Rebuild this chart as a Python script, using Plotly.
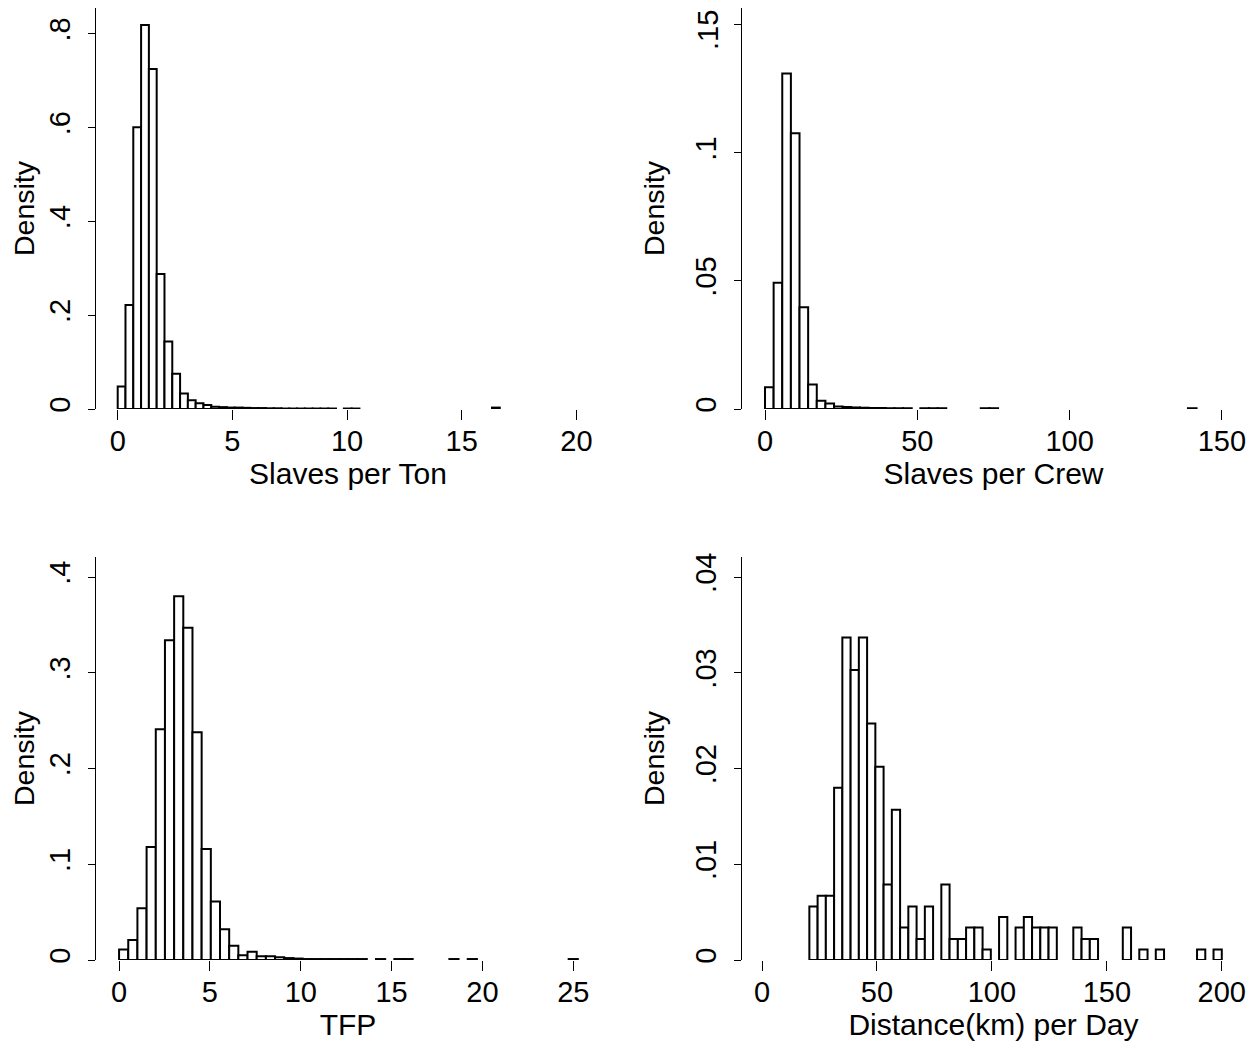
import plotly.graph_objects as go

# ---------------- data (densities) ----------------
ton_start, ton_width = 0.0, 0.34
ton_density = [0.048, 0.222, 0.601, 0.819, 0.725, 0.288, 0.144, 0.075, 0.033, 0.0185,
               0.012, 0.0085, 0.005, 0.004, 0.003, 0.003, 0.0025, 0.002, 0.002, 0.0015,
               0.0015, 0.001, 0.001, 0.001, 0.001, 0.001, 0.001, 0.001, None, 0.001,
               0.001, None, None, None, None, None, None, None, None, None,
               None, None, None, None, None, None, None, None, 0.003]

crew_start, crew_width = 0.0, 2.834
crew_density = [0.0085, 0.0493, 0.131, 0.1077, 0.0397, 0.0096, 0.0032, 0.0021, 0.001, 0.0008,
                0.0006, 0.0005, 0.0004, 0.0004, 0.0003, 0.0003, 0.0003, None, 0.0003, 0.0003,
                0.0003, None, None, None, None, 0.0003, 0.0003, None, None, None,
                None, None, None, None, None, None, None, None, None, None,
                None, None, None, None, None, None, None, None, None, 0.0003]

tfp_start, tfp_width = 0.0, 0.505
tfp_density = [0.011, 0.021, 0.054, 0.118, 0.241, 0.334, 0.380, 0.347, 0.238, 0.116,
               0.061, 0.032, 0.015, 0.005, 0.0085, 0.004, 0.004, 0.003, 0.002, 0.0015,
               0.001, 0.001, 0.001, 0.001, 0.001, 0.001, 0.001, None, 0.001, None,
               0.001, 0.001, None, None, None, None, 0.001, None, 0.001, None,
               None, None, None, None, None, None, None, None, None, 0.001]

dist_start, dist_width = 20.6, 3.588
dist_density = [0.0056, 0.0067, 0.0067, 0.0180, 0.0337, 0.0303, 0.0337, 0.0247, 0.0202, 0.0079,
                0.0157, 0.0034, 0.0056, 0.0022, 0.0056, None, 0.0079, 0.0022, 0.0022, 0.0034,
                0.0034, 0.0011, None, 0.0045, None, 0.0034, 0.0045, 0.0034, 0.0034, 0.0034,
                None, None, 0.0034, 0.0022, 0.0022, None, None, None, 0.0034, None,
                0.0011, None, 0.0011, None, None, None, None, 0.0011, None, 0.0011]

titles_x = ["Slaves per Ton", "Slaves per Crew", "TFP", "Distance(km) per Day"]
xtick_vals = [[0, 5, 10, 15, 20], [0, 50, 100, 150], [0, 5, 10, 15, 20, 25], [0, 50, 100, 150, 200]]
ytick_vals = [[0, 0.2, 0.4, 0.6, 0.8], [0, 0.05, 0.1, 0.15], [0, 0.1, 0.2, 0.3, 0.4], [0, 0.01, 0.02, 0.03, 0.04]]
ytick_text = [["0", ".2", ".4", ".6", ".8"], ["0", ".05", ".1", ".15"], ["0", ".1", ".2", ".3", ".4"],
              ["0", ".01", ".02", ".03", ".04"]]

# ---------------- layout geometry ----------------
OFF = 8                      # default page body margin
W, H = 1260 - OFF, 1042 - OFF
FONT = "Liberation Sans, Arial, Helvetica, sans-serif"
FS_TICK = 29
FS_TITLE = 30
FS_YTITLE = 28.5

panels = [
    dict(data=(ton_start, ton_width, ton_density), px=(96, 600), py=(8, 409), xr=(-0.946, 21.03), yr=(0, 0.855)),
    dict(data=(crew_start, crew_width, crew_density), px=(742, 1245), py=(8, 409), xr=(-7.55, 157.6), yr=(0, 0.1566)),
    dict(data=(tfp_start, tfp_width, tfp_density), px=(96, 600), py=(557, 960), xr=(-1.27, 26.47), yr=(0, 0.421)),
    dict(data=(dist_start, dist_width, dist_density), px=(742, 1245), py=(557, 960), xr=(-8.7, 210.1), yr=(0, 0.0421)),
]

fig = go.Figure()
layout = dict(width=W, height=H, margin=dict(l=0, r=0, t=0, b=0),
              paper_bgcolor="white", plot_bgcolor="white", showlegend=False,
              font=dict(family=FONT, size=FS_TICK, color="black"))

annotations = []
for i, p in enumerate(panels):
    n = "" if i == 0 else str(i + 1)
    start, width, dens = p["data"]
    centers = [start + (k + 0.5) * width for k in range(len(dens))]
    fig.add_trace(go.Bar(
        x=centers, y=dens, width=width,
        marker=dict(color="white", line=dict(color="black", width=2)),
        xaxis="x" + n, yaxis="y" + n, cliponaxis=False, hoverinfo="skip"))
    x0, x1 = (v - OFF for v in p["px"])
    y0, y1 = (v - OFF for v in p["py"])
    ttext = list(ytick_text[i])
    # a tick label touching the very top edge is drawn as an annotation so it is not clipped
    if y0 <= 0:
        top_lab = ttext[-1]
        top_val = ytick_vals[i][-1]
        top_px = y1 - (y1 - y0) * top_val / p["yr"][1]
        if top_px < 24:
            ttext[-1] = ""
            annotations.append(dict(
                text=top_lab, textangle=-90, showarrow=False,
                xref="paper", yref="paper",
                x=(x0 - 34) / W, xanchor="center",
                y=1.0, yanchor="top",
                font=dict(family=FONT, size=FS_TICK, color="black")))
    layout["xaxis" + n] = dict(
        domain=[max(x0 / W, 0.0), min(x1 / W, 1.0)], range=list(p["xr"]), anchor="y" + n,
        showline=False, showgrid=False, zeroline=False,
        ticks="outside", ticklen=10, tickwidth=1.3, tickcolor="black",
        tickvals=xtick_vals[i], ticktext=[str(v) for v in xtick_vals[i]],
        tickfont=dict(family=FONT, size=FS_TICK, color="black"), ticklabelstandoff=-4,
        ticklabeloverflow="allow",
        title=dict(text=titles_x[i], font=dict(family=FONT, size=FS_TITLE, color="black"), standoff=0),
        automargin=False)
    layout["yaxis" + n] = dict(
        domain=[max(1 - y1 / H, 0.0), min(1 - y0 / H, 1.0)], range=list(p["yr"]), anchor="x" + n,
        showline=True, linecolor="black", linewidth=1.3, showgrid=False, zeroline=False,
        ticks="outside", ticklen=7, tickwidth=1.3, tickcolor="black",
        tickvals=ytick_vals[i], ticktext=ttext, tickangle=-90,
        tickfont=dict(family=FONT, size=FS_TICK, color="black"), ticklabelstandoff=6,
        ticklabeloverflow="allow",
        title=dict(text="Density", font=dict(family=FONT, size=FS_YTITLE, color="black"), standoff=17),
        automargin=False)

layout["annotations"] = annotations
fig.update_layout(**layout)
fig.write_html("out.html")
